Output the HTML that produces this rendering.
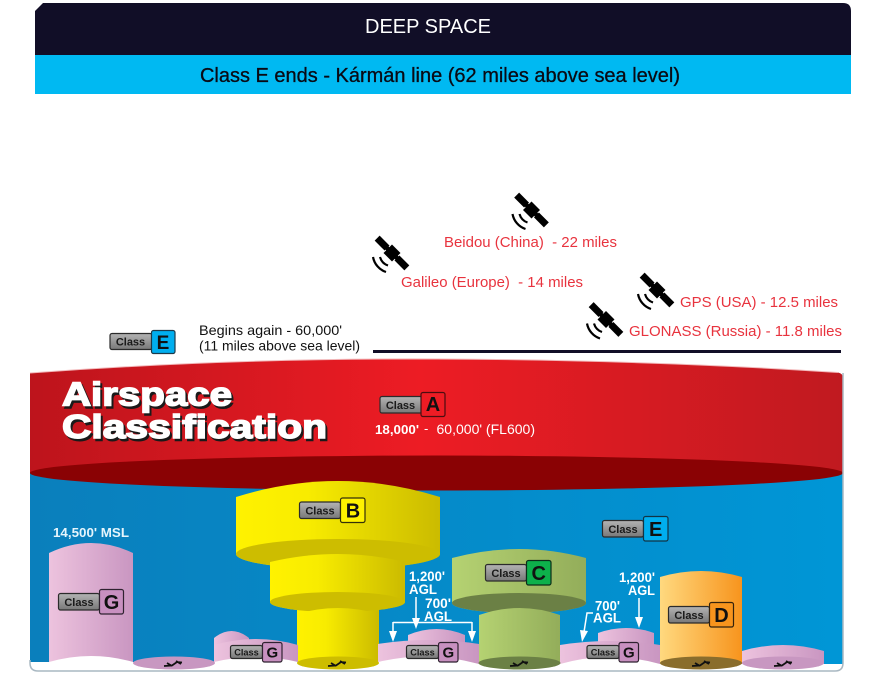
<!DOCTYPE html>
<html>
<head>
<meta charset="utf-8">
<style>
html,body{margin:0;padding:0;background:#fff;width:881px;height:678px;overflow:hidden}
svg{display:block}
text{font-family:"Liberation Sans",sans-serif}
.c{font-weight:bold;fill:#1a1a1a}
.l{font-weight:bold;fill:#111}
.w{font-weight:bold;fill:#fff;font-size:13.5px}
.r{fill:#e8333e;font-size:14.5px}
.g{fill:url(#grey);stroke:#2b2b2b;stroke-width:1.2}
</style>
</head>
<body>
<svg width="881" height="678" viewBox="0 0 881 678" xmlns="http://www.w3.org/2000/svg">
<defs>
<linearGradient id="blue" x1="0" x2="1" y1="0" y2="0"><stop offset="0" stop-color="#0a7fbc"/><stop offset="1" stop-color="#0096d6"/></linearGradient>
<linearGradient id="red" x1="0" x2="1" y1="0" y2="0"><stop offset="0" stop-color="#bd141c"/><stop offset=".48" stop-color="#ed1c24"/><stop offset="1" stop-color="#c01a20"/></linearGradient>
<linearGradient id="yel" x1="0" x2="1" y1="0" y2="0"><stop offset="0" stop-color="#fff200"/><stop offset=".35" stop-color="#f8ec00"/><stop offset="1" stop-color="#cbbb00"/></linearGradient>
<linearGradient id="pink" x1="0" x2="1" y1="0" y2="0"><stop offset="0" stop-color="#edc3de"/><stop offset="1" stop-color="#c996c1"/></linearGradient>
<linearGradient id="grn" x1="0" x2="1" y1="0" y2="0"><stop offset="0" stop-color="#b5d272"/><stop offset="1" stop-color="#93ad5a"/></linearGradient>
<linearGradient id="org" x1="0" x2="1" y1="0" y2="0"><stop offset="0" stop-color="#ffd97f"/><stop offset="1" stop-color="#f7941d"/></linearGradient>
<linearGradient id="grey" x1="0" x2="0" y1="0" y2="1"><stop offset="0" stop-color="#b4b4b4"/><stop offset="1" stop-color="#787878"/></linearGradient>
</defs>

<!-- header -->
<path d="M35,55 V11 L43,3 H843 Q851,3 851,11 V55 Z" fill="#110e27"/>
<rect x="35" y="55" width="816" height="39" fill="#00b9f2"/>
<text x="428" y="33" text-anchor="middle" font-size="20" fill="#fff" textLength="126" lengthAdjust="spacingAndGlyphs">DEEP SPACE</text>
<text x="440" y="82" text-anchor="middle" font-size="20" fill="#0a0a14" stroke="#0a0a14" stroke-width=".3" textLength="480" lengthAdjust="spacingAndGlyphs">Class E ends - Kármán line (62 miles above sea level)</text>

<!-- satellites -->
<g fill="#000">
<g transform="translate(531.500,210)"><g transform="rotate(45)"><rect x="-21" y="-3.500" width="14" height="7"/><rect x="7" y="-3.500" width="14" height="7"/><rect x="-9" y="-2.200" width="18" height="4.400"/><rect x="-6" y="-6" width="12" height="12"/></g><path d="M-19,4 A19.500 19.500 0 0 0 -6,19 M-12,4 A12.500 12.500 0 0 0 -4,12.500" fill="none" stroke="#000" stroke-width="2.200"/></g>
<g transform="translate(392,253)"><g transform="rotate(45)"><rect x="-21" y="-3.500" width="14" height="7"/><rect x="7" y="-3.500" width="14" height="7"/><rect x="-9" y="-2.200" width="18" height="4.400"/><rect x="-6" y="-6" width="12" height="12"/></g><path d="M-19,4 A19.500 19.500 0 0 0 -6,19 M-12,4 A12.500 12.500 0 0 0 -4,12.500" fill="none" stroke="#000" stroke-width="2.200"/></g>
<g transform="translate(657,290)"><g transform="rotate(45)"><rect x="-21" y="-3.500" width="14" height="7"/><rect x="7" y="-3.500" width="14" height="7"/><rect x="-9" y="-2.200" width="18" height="4.400"/><rect x="-6" y="-6" width="12" height="12"/></g><path d="M-19,4 A19.500 19.500 0 0 0 -6,19 M-12,4 A12.500 12.500 0 0 0 -4,12.500" fill="none" stroke="#000" stroke-width="2.200"/></g>
<g transform="translate(606,319.500)"><g transform="rotate(45)"><rect x="-21" y="-3.500" width="14" height="7"/><rect x="7" y="-3.500" width="14" height="7"/><rect x="-9" y="-2.200" width="18" height="4.400"/><rect x="-6" y="-6" width="12" height="12"/></g><path d="M-19,4 A19.500 19.500 0 0 0 -6,19 M-12,4 A12.500 12.500 0 0 0 -4,12.500" fill="none" stroke="#000" stroke-width="2.200"/></g>
</g>
<text class="r" x="444" y="247" textLength="173" lengthAdjust="spacingAndGlyphs" xml:space="preserve">Beidou (China)  - 22 miles</text>
<text class="r" x="401" y="287" textLength="182" lengthAdjust="spacingAndGlyphs" xml:space="preserve">Galileo (Europe)  - 14 miles</text>
<text class="r" x="680" y="307" textLength="158" lengthAdjust="spacingAndGlyphs">GPS (USA) - 12.5 miles</text>
<text class="r" x="629" y="336" textLength="213" lengthAdjust="spacingAndGlyphs">GLONASS (Russia) - 11.8 miles</text>
<rect x="373" y="350" width="468" height="3" fill="#110e27"/>

<!-- Begins again -->
<text x="199" y="335" font-size="14" fill="#111" textLength="143" lengthAdjust="spacingAndGlyphs">Begins again - 60,000'</text>
<text x="199" y="350.500" font-size="14" fill="#111" textLength="161" lengthAdjust="spacingAndGlyphs">(11 miles above sea level)</text>
<rect class="g" x="110" y="333.500" width="42" height="16" rx="2"/>
<text class="c" x="130.500" y="345.500" font-size="11" text-anchor="middle">Class</text>
<rect x="151.500" y="330.500" width="23.500" height="23" rx="2" fill="#00aeef" stroke="#1d3a4a" stroke-width="1.200"/>
<text class="l" x="163" y="349" font-size="19" text-anchor="middle">E</text>

<!-- panel -->
<path d="M30,465 H843 V663 Q843,671 835,671 H38 Q30,671 30,663 Z" fill="url(#blue)"/>

<!-- red disc -->
<path d="M30,373 Q230,358 437,359 Q650,360 838,372.500 Q843,373.500 843,378 V473 H30 Z" fill="url(#red)"/>
<path d="M30,373 Q230,358 437,359 Q650,360 838,372.500" fill="none" stroke="#f2b9bb" stroke-width="1"/>
<ellipse cx="436.500" cy="473" rx="406.500" ry="17.500" fill="#8a0204"/>

<!-- G tall -->
<path d="M49,553 Q91,533 133,553 V664 H49 Z" fill="url(#pink)"/>

<!-- B -->
<path d="M297,608 H379 V663 A41 6.500 0 0 1 297,663 Z" fill="url(#yel)"/>
<path d="M236,497 Q338,465 440,497 V554 A102 15 0 0 1 236,554 Z" fill="url(#yel)"/>
<ellipse cx="338" cy="554" rx="102" ry="15" fill="#cdbd00"/>
<path d="M270,562 Q338,546 405,562 V602 A67.500 10 0 0 1 270,602 Z" fill="url(#yel)"/>
<ellipse cx="337.500" cy="602" rx="67.500" ry="10" fill="#cdbd00"/>
<path d="M297,614 Q338,602 379,614 V664 H297 Z" fill="url(#yel)"/>

<!-- small G left -->
<path d="M214,638 Q231.500,624 249,638 V664 H214 Z" fill="url(#pink)"/>
<path d="M214,645 Q256,633 298,645 V664 H214 Z" fill="url(#pink)"/>

<!-- mid G -->
<path d="M408,635 Q436.500,623 465,635 V650 H408 Z" fill="url(#pink)"/>
<path d="M378,644 Q428,636 479,644 V666 H378 Z" fill="url(#pink)"/>

<!-- C -->
<path d="M452,558 Q519,540 586,558 V603 A67 10 0 0 1 452,603 Z" fill="url(#grn)"/>
<ellipse cx="519" cy="603" rx="67" ry="10" fill="#6b8045"/>
<path d="M479,615 Q519.500,601 560,615 V664 H479 Z" fill="url(#grn)"/>

<!-- right G -->
<path d="M598,633 Q626,623 654,633 V650 H598 Z" fill="url(#pink)"/>
<path d="M560,645 Q610,637 660,645 V666 H560 Z" fill="url(#pink)"/>

<!-- D -->
<path d="M660,577 Q701,565 742,577 V664 H660 Z" fill="url(#org)"/>

<!-- right disc -->
<path d="M742,651 Q783,639 824,651 V664 H742 Z" fill="url(#pink)"/>

<!-- white ground -->
<path d="M30,662 H49 Q91,650 133,662 H214 Q256,652 298,662 H378 Q428,650 479,664 H560 Q610,650 660,664 H843 V663 Q843,671 835,671 H38 Q30,671 30,663 Z" fill="#fff"/>
<path d="M30,660 V663 Q30,671 38,671 H835 Q843,671 843,663 V373" fill="none" stroke="#a9b8c2" stroke-width="1.500"/>

<!-- floor ellipses -->
<ellipse cx="174" cy="663" rx="41" ry="6.500" fill="#c897c1"/>
<ellipse cx="338" cy="663" rx="41" ry="6.500" fill="#cdbd00"/>
<ellipse cx="519.500" cy="663" rx="41" ry="6.500" fill="#6b8045"/>
<ellipse cx="701" cy="663" rx="41" ry="6.500" fill="#8a6d2c"/>
<ellipse cx="783" cy="663" rx="41" ry="6.500" fill="#c897c1"/>

<!-- planes -->
<g fill="none" stroke="#111" stroke-width="1.800">
<path d="M164,666 L172,665.500 L177,662 L182,662.500 M167,663 L172,666 M176,661 L181,664"/>
<path d="M328,666 L336,665.500 L341,662 L346,662.500 M331,663 L336,666 M340,661 L345,664"/>
<path d="M510,666 L518,665.500 L523,662 L528,662.500 M513,663 L518,666 M522,661 L527,664"/>
<path d="M692,666 L700,665.500 L705,662 L710,662.500 M695,663 L700,666 M704,661 L709,664"/>
<path d="M774,666 L782,665.500 L787,662 L792,662.500 M777,663 L782,666 M786,661 L791,664"/>
</g>

<!-- Airspace title -->
<g font-weight="bold" font-size="33">
<text x="64" y="408" fill="#1a1a1a" stroke="#1a1a1a" stroke-width="1.500" textLength="170" lengthAdjust="spacingAndGlyphs">Airspace</text>
<text x="62" y="405.500" fill="#fff" stroke="#fff" stroke-width="1.500" textLength="170" lengthAdjust="spacingAndGlyphs">Airspace</text>
<text x="64" y="440.500" fill="#1a1a1a" stroke="#1a1a1a" stroke-width="1.500" textLength="265" lengthAdjust="spacingAndGlyphs">Classification</text>
<text x="62" y="438" fill="#fff" stroke="#fff" stroke-width="1.500" textLength="265" lengthAdjust="spacingAndGlyphs">Classification</text>
</g>

<!-- Class A -->
<rect class="g" x="380" y="396.500" width="42" height="16.500" rx="2"/>
<text class="c" x="400.500" y="409" font-size="11" text-anchor="middle">Class</text>
<rect x="421" y="392.500" width="24" height="24" rx="2" fill="#ed1c24" stroke="#4a0d10" stroke-width="1.200"/>
<text class="l" x="433" y="411" font-size="20" text-anchor="middle">A</text>
<text x="375" y="434" font-size="13" font-weight="bold" fill="#fff" textLength="44" lengthAdjust="spacingAndGlyphs">18,000'</text>
<text x="424" y="433" font-size="13" fill="#fff">-</text>
<text x="436.500" y="434" font-size="14" fill="#fff" textLength="98.500" lengthAdjust="spacingAndGlyphs">60,000' (FL600)</text>

<text x="53" y="537" font-size="12.500" font-weight="bold" fill="#e6f5fc" textLength="76" lengthAdjust="spacingAndGlyphs">14,500' MSL</text>

<!-- Class B -->
<rect class="g" x="299.500" y="502" width="41" height="16.500" rx="2"/>
<text class="c" x="320" y="514.500" font-size="11" text-anchor="middle">Class</text>
<rect x="340.500" y="498" width="24.500" height="24.500" rx="2" fill="#fff200" stroke="#33300a" stroke-width="1.200"/>
<text class="l" x="353" y="517.500" font-size="20" text-anchor="middle">B</text>

<!-- Class G tall -->
<rect class="g" x="58.500" y="593.500" width="41" height="16.500" rx="2"/>
<text class="c" x="79" y="606" font-size="11" text-anchor="middle">Class</text>
<rect x="99.500" y="589.500" width="24" height="24.500" rx="2" fill="#c890c0" stroke="#2f2230" stroke-width="1.200"/>
<text class="l" x="111.500" y="609" font-size="20" text-anchor="middle">G</text>

<!-- small G badges -->
<rect class="g" x="230.500" y="645.500" width="32" height="13" rx="2"/>
<text class="c" x="246.500" y="655.500" font-size="9.200" text-anchor="middle">Class</text>
<rect x="262.500" y="642.500" width="19.500" height="19.500" rx="2" fill="#c890c0" stroke="#2f2230" stroke-width="1.200"/>
<text class="l" x="272.300" y="657.500" font-size="15" text-anchor="middle">G</text>

<rect class="g" x="406.500" y="645.500" width="32" height="13" rx="2"/>
<text class="c" x="422.500" y="655.500" font-size="9.200" text-anchor="middle">Class</text>
<rect x="438.500" y="642.500" width="19.500" height="19.500" rx="2" fill="#c890c0" stroke="#2f2230" stroke-width="1.200"/>
<text class="l" x="448.300" y="657.500" font-size="15" text-anchor="middle">G</text>

<rect class="g" x="587" y="645.500" width="32" height="13" rx="2"/>
<text class="c" x="603" y="655.500" font-size="9.200" text-anchor="middle">Class</text>
<rect x="619" y="642.500" width="19.500" height="19.500" rx="2" fill="#c890c0" stroke="#2f2230" stroke-width="1.200"/>
<text class="l" x="628.800" y="657.500" font-size="15" text-anchor="middle">G</text>

<!-- Class E mid -->
<rect class="g" x="602.500" y="520.500" width="41" height="16.500" rx="2"/>
<text class="c" x="623" y="533" font-size="11" text-anchor="middle">Class</text>
<rect x="643.500" y="516.500" width="24.500" height="24.500" rx="2" fill="#00aeef" stroke="#123445" stroke-width="1.200"/>
<text class="l" x="655.700" y="536" font-size="20" text-anchor="middle">E</text>

<!-- Class C -->
<rect class="g" x="485.500" y="564.500" width="41" height="16.500" rx="2"/>
<text class="c" x="506" y="577" font-size="11" text-anchor="middle">Class</text>
<rect x="526.500" y="560.500" width="24.500" height="24.500" rx="2" fill="#0db04b" stroke="#0d2d1a" stroke-width="1.200"/>
<text class="l" x="538.700" y="580" font-size="20" text-anchor="middle">C</text>

<!-- Class D -->
<rect class="g" x="668.500" y="606.500" width="41" height="16.500" rx="2"/>
<text class="c" x="689" y="619" font-size="11" text-anchor="middle">Class</text>
<rect x="709.500" y="602.500" width="24" height="24.500" rx="2" fill="#f7941d" stroke="#33220d" stroke-width="1.200"/>
<text class="l" x="721.500" y="622" font-size="20" text-anchor="middle">D</text>

<!-- AGL labels -->
<text class="w" x="409" y="581" textLength="36" lengthAdjust="spacingAndGlyphs">1,200'</text>
<text class="w" x="409" y="594" textLength="28" lengthAdjust="spacingAndGlyphs">AGL</text>
<text class="w" x="425" y="608" textLength="26" lengthAdjust="spacingAndGlyphs">700'</text>
<text class="w" x="424" y="621" textLength="28" lengthAdjust="spacingAndGlyphs">AGL</text>
<text class="w" x="619" y="582" textLength="36" lengthAdjust="spacingAndGlyphs">1,200'</text>
<text class="w" x="628" y="595" textLength="27" lengthAdjust="spacingAndGlyphs">AGL</text>
<text class="w" x="595" y="610.500" textLength="25" lengthAdjust="spacingAndGlyphs">700'</text>
<text class="w" x="593" y="622.500" textLength="28" lengthAdjust="spacingAndGlyphs">AGL</text>

<!-- arrows -->
<g stroke="#fff" stroke-width="1.500" fill="none">
<path d="M416,597 V622 M393,622.500 H472 M393,622 V632 M472,622 V632"/>
<path d="M639,598 V620"/>
<path d="M593,613 H587 L584,632"/>
</g>
<g fill="#fff">
<path d="M412,618 H420 L416,629 Z"/>
<path d="M389,631 H397 L393,642 Z"/>
<path d="M468,631 H476 L472,642 Z"/>
<path d="M635,617 H643 L639,628 Z"/>
<path d="M580,630 L588,631 L582,642 Z"/>
</g>
</svg>
</body>
</html>
